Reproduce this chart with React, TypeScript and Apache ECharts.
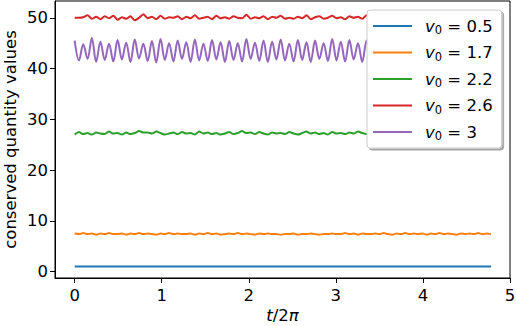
import React, { useEffect, useRef } from "react";
import * as echarts from "echarts";

const DT = 0.0493; // sample spacing in t/2π
const legendNames = ["v0 = 0.5", "v0 = 1.7", "v0 = 2.2", "v0 = 2.6", "v0 = 3"];
const legendValues = ["0.5", "1.7", "2.2", "2.6", "3"];
const colors = ["#1f77b4", "#ff7f0e", "#2ca02c", "#d62728", "#9467bd"];
const xTicks = [0, 1, 2, 3, 4, 5];
const yTicks = [0, 10, 20, 30, 40, 50];

const blue = [
  1.0, 1.0, 1.0, 1.0, 1.0, 1.0, 1.0, 1.0, 1.0, 1.0,
  1.0, 1.0, 1.0, 1.0, 1.0, 1.0, 1.0, 1.0, 1.0, 1.0,
  1.0, 1.0, 1.0, 1.0, 1.0, 1.0, 1.0, 1.0, 1.0, 1.0,
  1.0, 1.0, 1.0, 1.0, 1.0, 1.0, 1.0, 1.0, 1.0, 1.0,
  1.0, 1.0, 1.0, 1.0, 1.0, 1.0, 1.0, 1.0, 1.0, 1.0,
  1.0, 1.0, 1.0, 1.0, 1.0, 1.0, 1.0, 1.0, 1.0, 1.0,
  1.0, 1.0, 1.0, 1.0, 1.0, 1.0, 1.0, 1.0, 1.0, 1.0,
  1.0, 1.0, 1.0, 1.0, 1.0, 1.0, 1.0, 1.0, 1.0, 1.0,
  1.0, 1.0, 1.0, 1.0, 1.0, 1.0, 1.0, 1.0, 1.0, 1.0,
  1.0, 1.0, 1.0, 1.0, 1.0, 1.0, 1.0, 1.0,
];
const orange = [
  7.5, 7.4, 7.6, 7.4, 7.5, 7.3, 7.5, 7.4, 7.6, 7.4,
  7.4, 7.5, 7.3, 7.5, 7.4, 7.6, 7.4, 7.5, 7.4, 7.3,
  7.5, 7.4, 7.6, 7.4, 7.5, 7.4, 7.4, 7.5, 7.3, 7.5,
  7.4, 7.6, 7.4, 7.5, 7.3, 7.4, 7.5, 7.4, 7.6, 7.4,
  7.5, 7.4, 7.3, 7.5, 7.4, 7.5, 7.4, 7.4, 7.3, 7.4,
  7.4, 7.5, 7.3, 7.4, 7.4, 7.5, 7.4, 7.3, 7.4, 7.4,
  7.5, 7.4, 7.4, 7.6, 7.4, 7.5, 7.3, 7.5, 7.4, 7.4,
  7.5, 7.4, 7.6, 7.4, 7.3, 7.5, 7.4, 7.6, 7.4, 7.5,
  7.4, 7.5, 7.3, 7.5, 7.4, 7.6, 7.4, 7.5, 7.4, 7.3,
  7.5, 7.4, 7.5, 7.4, 7.6, 7.4, 7.5, 7.4,
];
const green = [
  27.0, 27.5, 27.1, 27.3, 27.0, 27.4, 27.2, 27.1, 27.6, 27.2,
  27.3, 27.0, 27.4, 27.1, 27.3, 27.7, 27.4, 27.4, 27.2, 27.6,
  27.3, 27.0, 27.2, 27.4, 27.1, 27.5, 27.2, 27.3, 27.0, 27.6,
  27.2, 27.4, 27.1, 27.3, 27.0, 27.2, 27.5, 27.1, 27.3, 27.7,
  27.3, 27.4, 27.1, 27.5, 27.2, 27.0, 27.4, 27.2, 27.3, 27.1,
  27.5, 27.2, 27.0, 27.3, 27.6, 27.2, 27.4, 27.1, 27.3, 27.0,
  27.5, 27.2, 27.3, 27.1, 27.4, 27.2, 27.6, 27.3, 27.1, 27.4,
  27.2, 27.0, 27.3, 27.5, 27.1, 27.4, 27.2, 27.3, 27.0, 27.6,
  27.2, 27.4, 27.1, 27.3, 27.5, 27.2, 27.0, 27.4, 27.1, 27.3,
  27.6, 27.2, 27.3, 27.1, 27.4, 27.2, 27.5, 27.2,
];
const red = [
  50.0, 50.0, 50.1, 50.5, 49.8, 50.2, 49.7, 50.3, 49.9, 50.4,
  49.6, 50.1, 49.8, 50.3, 49.5, 50.0, 50.7, 49.9, 50.2, 49.7,
  50.4, 49.8, 50.1, 50.0, 50.3, 49.7, 50.2, 49.9, 50.5, 49.8,
  50.0, 50.2, 49.7, 50.4, 49.9, 50.1, 49.8, 50.3, 50.0, 49.9,
  50.6, 49.8, 50.1, 49.9, 50.3, 49.7, 50.2, 50.0, 50.4, 49.8,
  50.0, 49.8, 50.2, 49.9, 50.5, 49.7, 50.1, 50.3, 49.8, 50.0,
  50.4, 49.9, 50.1, 49.7, 50.3, 50.0, 50.2, 49.8, 50.5, 49.9,
  50.0, 50.2, 49.8, 50.4, 49.9, 50.1, 49.7, 50.3, 50.0, 49.8,
  50.5, 49.9, 50.2, 49.7, 50.3, 50.0, 50.1, 49.8, 50.4, 49.9,
  50.2, 49.8, 50.3, 50.0, 49.9, 50.4, 49.8, 50.1,
];
const purple = [
  45.5, 41.6, 44.8, 41.9, 46.0, 41.3, 45.3, 41.7, 44.9, 41.4,
  45.6, 41.8, 45.1, 41.3, 45.7, 42.0, 44.9, 41.5, 45.4, 41.2,
  45.8, 41.7, 45.0, 41.4, 45.5, 41.9, 45.2, 41.3, 45.7, 41.6,
  44.9, 41.5, 45.6, 41.8, 45.2, 41.3, 45.4, 41.7, 45.0, 41.4,
  45.8, 41.9, 45.1, 41.5, 45.5, 41.3, 45.3, 41.8, 45.7, 41.6,
  44.9, 41.4, 45.6, 41.7, 45.2, 41.3, 45.5, 41.9, 45.0, 41.5,
  45.8, 41.6, 45.3, 41.4, 45.6, 41.8, 45.0, 41.3, 45.5, 41.7,
  45.2, 41.5, 45.7, 41.9, 44.9, 41.4, 45.6, 41.6, 45.3, 41.3,
  45.5, 41.8, 45.1, 41.5, 45.7, 41.7, 45.0, 41.4, 45.4, 41.9,
  45.6, 41.3, 45.2, 41.6, 45.5, 41.8, 45.1, 42.5,
];

const seriesValues = [blue, orange, green, red, purple];
const FONT = "DejaVu Sans";
const FS = 16.5;

export default function App() {
  const ref = useRef<HTMLDivElement>(null);
  useEffect(() => {
    if (!ref.current) return;
    const chart = echarts.init(ref.current, undefined, { renderer: "svg" });
    const series = seriesValues.map((vals, k) => ({
      type: "line",
      name: legendNames[k],
      data: vals.map((v, i) => [i * DT, v]),
      showSymbol: false,
      symbol: "none",
      smooth: k === 4 ? 0.35 : 0.2,
      lineStyle: { color: colors[k], width: 2 },
      itemStyle: { color: colors[k] },
      z: 2 + k * 0.01,
    }));
    chart.setOption({
      animation: false,
      textStyle: { fontFamily: FONT },
      grid: {
        left: 55,
        right: 6,
        top: 1,
        bottom: 48,
        show: true,
        borderColor: "#000",
        borderWidth: 1,
        backgroundColor: "transparent",
        containLabel: false,
        outerBoundsMode: "none",
      },
      xAxis: {
        type: "value",
        min: -0.226,
        max: 5,
        splitLine: { show: false },
        axisLine: { show: true, onZero: false, lineStyle: { color: "#000", width: 1 } },
        axisTick: { show: true, inside: false, length: 5, lineStyle: { color: "#000" }, customValues: xTicks },
        axisLabel: { color: "#000", fontSize: FS, fontFamily: FONT, margin: 9, customValues: xTicks },
        name: "{i|t}/2{i|π}",
        nameLocation: "middle",
        nameGap: 29,
        nameMoveOverlap: false,
        nameTextStyle: {
          color: "#000",
          fontSize: FS,
          fontFamily: FONT,
          rich: { i: { fontStyle: "italic", fontSize: FS, fontFamily: FONT, color: "#000" } },
        },
      },
      yAxis: {
        type: "value",
        min: -1.24,
        max: 53.3,
        splitLine: { show: false },
        axisLine: { show: true, onZero: false, lineStyle: { color: "#000", width: 1 } },
        axisTick: { show: true, inside: false, length: 5, lineStyle: { color: "#000" }, customValues: yTicks },
        axisLabel: { color: "#000", fontSize: FS, fontFamily: FONT, margin: 7, customValues: yTicks },
        name: "conserved quantity values",
        nameLocation: "middle",
        nameGap: 36,
        nameMoveOverlap: false,
        nameTextStyle: { color: "#000", fontSize: FS, fontFamily: FONT, lineHeight: 17 },
      },
      legend: {
        show: true,
        orient: "vertical",
        left: 367,
        top: 10,
        z: 20,
        padding: [6, 9, 6, 6],
        itemWidth: 39,
        itemHeight: 2,
        itemGap: 6.5,
        icon: "rect",
        backgroundColor: "#fff",
        borderColor: "#cccccc",
        borderWidth: 1,
        borderRadius: 3,
        shadowColor: "rgba(0,0,0,0.35)",
        shadowBlur: 0,
        shadowOffsetX: 2,
        shadowOffsetY: 2,
        data: legendNames,
        formatter: (name: string) => {
          const idx = legendNames.indexOf(name);
          return "{i|v}{s|0}{n| = " + legendValues[idx] + "}";
        },
        textStyle: {
          color: "#000",
          fontSize: FS,
          fontFamily: FONT,
          padding: [0, 0, 0, 8],
          lineHeight: 20,
          rich: {
            i: { fontStyle: "italic", fontSize: FS, fontFamily: FONT, color: "#000", lineHeight: 20 },
            s: { fontSize: 11.5, fontFamily: FONT, color: "#000", lineHeight: 20, verticalAlign: "bottom", padding: [5, 0, 0, 0] },
            n: { fontSize: FS, fontFamily: FONT, color: "#000", lineHeight: 20 },
          },
        },
      },
      series,
    });
    return () => chart.dispose();
  }, []);
  return <div ref={ref} style={{ width: 516, height: 326, position: "absolute", left: 0, top: 0 }} />;
}
